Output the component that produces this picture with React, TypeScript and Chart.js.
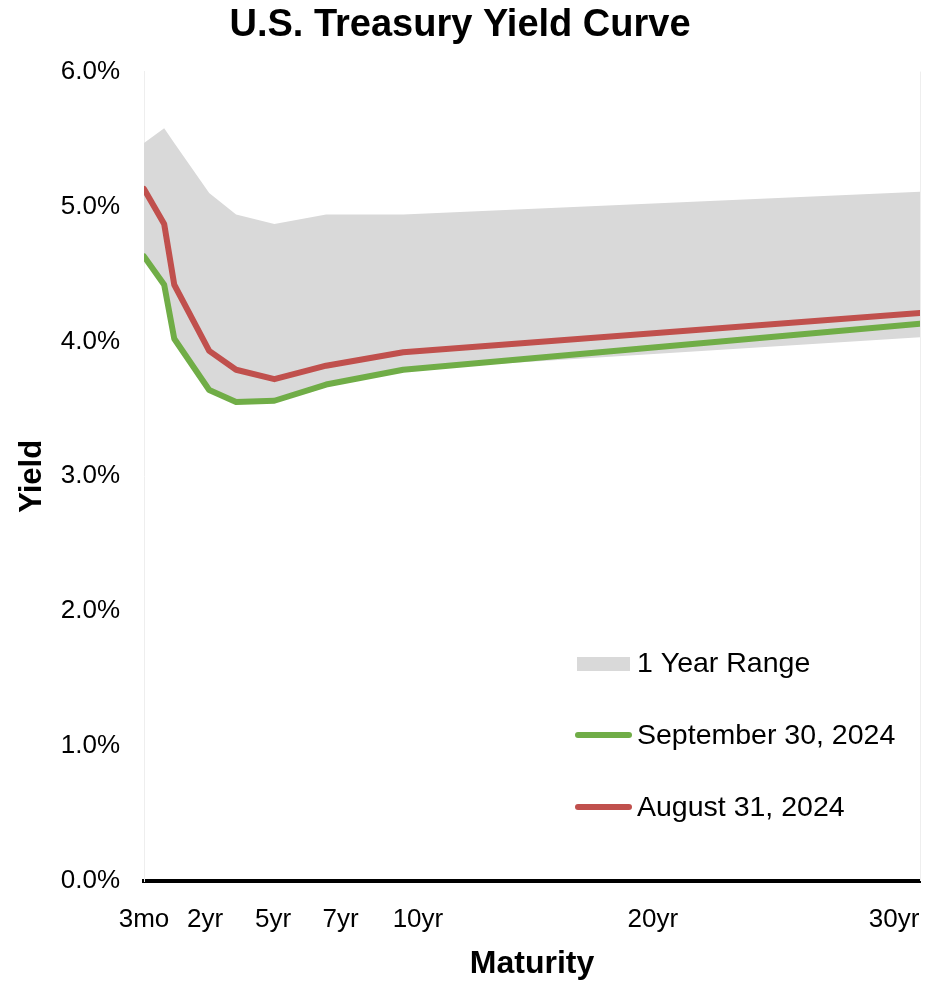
import React, { useEffect, useRef } from 'react';
import { Chart, registerables } from 'chart.js';

Chart.register(...registerables);

// Maturities of the plotted points and where they sit on the chart's x axis
const maturities = ['3mo', '6mo', '1yr', '2yr', '3yr', '5yr', '7yr', '10yr', '30yr'];
const axisPositions = [0, 0.78, 1.17, 2.52, 3.56, 5.04, 7.04, 10.02, 30];

// Yields in percent
const sep30 = [4.63, 4.42, 4.02, 3.64, 3.55, 3.56, 3.68, 3.79, 4.13];
const aug31 = [5.13, 4.87, 4.42, 3.93, 3.79, 3.72, 3.82, 3.92, 4.21];
const rangeHigh = [5.47, 5.58, 5.47, 5.1, 4.94, 4.87, 4.94, 4.94, 5.11];
const rangeLow = [4.63, 4.42, 4.02, 3.64, 3.55, 3.56, 3.68, 3.79, 4.03];

// X axis tick labels and their positions
const xTickLabels = ['3mo', '2yr', '5yr', '7yr', '10yr', '20yr', '30yr'];
const xTickPositions = [0, 2.36, 4.99, 7.6, 10.59, 19.67, 29.0];

const seriesNames = ['1 Year Range', 'September 30, 2024', 'August 31, 2024'];

const FONT = '"Liberation Sans", Arial, sans-serif';
const GRAY = '#d9d9d9';
const GREEN = '#70ad47';
const RED = '#c0504d';

const toPoints = (vals: number[]) => axisPositions.map((x, i) => ({ x, y: vals[i] }));

const legendPlugin = {
  id: 'customLegend',
  afterDraw(chart: any) {
    const ctx = chart.ctx;
    ctx.save();
    ctx.font = `28.5px ${FONT}`;
    ctx.textAlign = 'left';
    ctx.textBaseline = 'middle';
    const textX = 637;
    const rows = [664, 736, 808];
    ctx.fillStyle = GRAY;
    ctx.fillRect(577, 657, 53, 14);
    const lineColors = [GREEN, RED];
    [1, 2].forEach((r, k) => {
      ctx.beginPath();
      ctx.strokeStyle = lineColors[k];
      ctx.lineWidth = 6;
      ctx.lineCap = 'round';
      ctx.moveTo(578, rows[r] - 1);
      ctx.lineTo(629, rows[r] - 1);
      ctx.stroke();
    });
    ctx.fillStyle = '#000';
    seriesNames.forEach((name, i) => {
      ctx.fillText(name, textX, rows[i]);
    });
    ctx.restore();
  },
  beforeDatasetsDraw(chart: any) {
    const { ctx, chartArea } = chart;
    ctx.save();
    ctx.strokeStyle = '#eeeeee';
    ctx.lineWidth = 1;
    ctx.beginPath();
    ctx.moveTo(chartArea.right + 0.5, chartArea.top);
    ctx.lineTo(chartArea.right + 0.5, chartArea.bottom);
    ctx.stroke();
    ctx.restore();
  },
};

export default function App() {
  const ref = useRef<HTMLCanvasElement>(null);

  useEffect(() => {
    if (!ref.current) return;
    const chart = new Chart(ref.current, {
      type: 'line',
      data: {
        datasets: [
          {
            label: seriesNames[2],
            data: toPoints(aug31),
            borderColor: RED,
            borderWidth: 6,
            pointRadius: 0,
            fill: false,
            tension: 0,
            borderCapStyle: 'round',
            borderJoinStyle: 'round',
            order: 0,
          },
          {
            label: seriesNames[1],
            data: toPoints(sep30),
            borderColor: GREEN,
            borderWidth: 6,
            pointRadius: 0,
            fill: false,
            tension: 0,
            borderCapStyle: 'round',
            borderJoinStyle: 'round',
            order: 1,
          },
          {
            label: seriesNames[0],
            data: toPoints(rangeHigh),
            borderColor: 'rgba(0,0,0,0)',
            backgroundColor: GRAY,
            borderWidth: 1,
            pointRadius: 0,
            fill: '+1',
            tension: 0,
            order: 5,
          },
          {
            label: seriesNames[0] + ' low',
            data: toPoints(rangeLow),
            borderColor: 'rgba(0,0,0,0)',
            backgroundColor: GRAY,
            borderWidth: 1,
            pointRadius: 0,
            fill: false,
            tension: 0,
            order: 6,
          },
        ],
      },
      options: {
        responsive: false,
        animation: false,
        layout: { padding: { top: 0, right: 14, bottom: 0, left: 0 } },
        plugins: {
          legend: { display: false },
          tooltip: { enabled: false },
          filler: { drawTime: 'beforeDatasetsDraw' },
          title: {
            display: true,
            text: 'U.S. Treasury Yield Curve',
            color: '#000',
            font: { family: FONT, size: 38, weight: 'bold' },
            padding: { top: 2.5, bottom: 23.5 },
          },
        },
        scales: {
          x: {
            type: 'linear',
            min: 0,
            max: 30,
            afterFit: (scale: any) => {
              scale.height = 103;
              scale.paddingLeft = 0;
              scale.paddingRight = 0;
            },
            afterBuildTicks: (scale: any) => {
              scale.ticks = xTickPositions.map((v) => ({ value: v }));
            },
            ticks: {
              autoSkip: false,
              maxRotation: 0,
              minRotation: 0,
              padding: 23,
              color: '#000',
              font: { family: FONT, size: 26 },
              callback: (_v: any, i: number) => xTickLabels[i],
            },
            grid: { display: false, drawTicks: false, tickLength: 0 },
            border: { display: true, color: '#000', width: 4 },
            title: {
              display: true,
              text: 'Maturity',
              color: '#000',
              font: { family: FONT, size: 32, weight: 'bold' },
              padding: { top: 0, bottom: 1 },
            },
          },
          y: {
            min: 0,
            max: 6,
            afterFit: (scale: any) => {
              scale.width = 144;
            },
            ticks: {
              stepSize: 1,
              padding: 24,
              color: '#000',
              font: { family: FONT, size: 26 },
              callback: (v: any) => Number(v).toFixed(1) + '%',
            },
            grid: { display: false, drawTicks: false, tickLength: 0 },
            border: { display: true, color: '#eeeeee', width: 1 },
            title: {
              display: true,
              text: 'Yield',
              color: '#000',
              font: { family: FONT, size: 31, weight: 'bold' },
              padding: { top: 14, bottom: 0 },
            },
          },
        },
      },
      plugins: [legendPlugin],
    });
    return () => chart.destroy();
  }, []);

  return (
    <div style={{ position: 'absolute', left: 0, top: 0, width: 934, height: 984 }}>
      <canvas ref={ref} width={934} height={984} style={{ display: 'block' }} />
    </div>
  );
}
